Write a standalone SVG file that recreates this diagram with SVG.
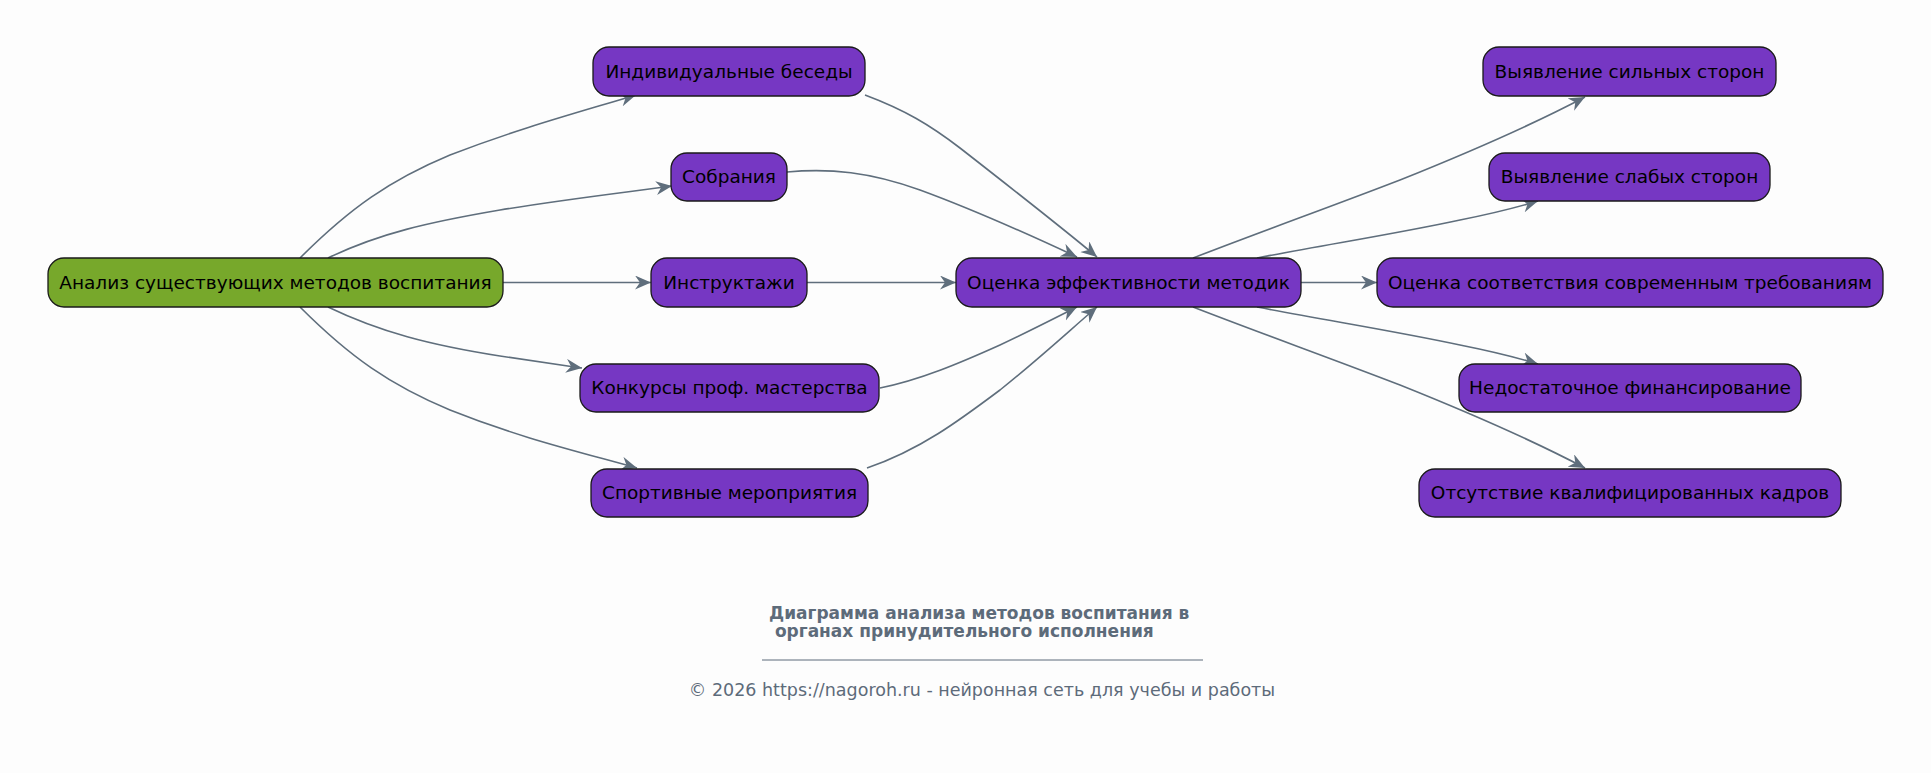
<svg xmlns="http://www.w3.org/2000/svg" width="1931" height="773" viewBox="0 0 1931 773">
<style>
.n rect{fill:#7637c3;stroke:#1a1a1a;stroke-width:1.3}
.root rect{fill:#77a82b}
.n text{font-family:"DejaVu Sans",sans-serif;font-size:18.5px;fill:#000;text-anchor:middle}
.e path{fill:none;stroke:#5f6e7c;stroke-width:1.6;marker-end:url(#ah)}
.t{font-family:"DejaVu Sans",sans-serif;fill:#5d6b7a}
</style>
<defs>
<marker id="ah" markerUnits="userSpaceOnUse" markerWidth="20" markerHeight="16" refX="16" refY="7" orient="auto">
<path d="M0,0 L16,7 L0,14 L5,7 z" fill="#5f6e7c"/>
</marker>
</defs>
<rect width="1931" height="773" fill="#fdfdfd"/>
<g id="connectors" class="e">
<path d="M300,258 C350,208 390,180 450,155 C520,128 580,112 636,95"/>
<path d="M328,258 C380,233 430,222 500,210 C560,200 620,193 672,186"/>
<path d="M503,282.5 L651,282.5"/>
<path d="M328,307 C380,332 430,345 500,356 C540,362 560,365 582,368"/>
<path d="M300,307 C350,357 390,385 450,410 C520,438 580,452 637,468"/>
<path d="M865,95 C905,110 930,125 960,148 C1010,187 1060,226 1097,257"/>
<path d="M787,172 C830,168 870,172 920,190 C980,212 1030,235 1077,257"/>
<path d="M807,282.5 L956,282.5"/>
<path d="M880,388 C920,380 960,363 1000,345 C1030,331 1055,318 1077,307"/>
<path d="M867,468 C920,450 960,420 1000,390 C1040,358 1070,330 1097,307"/>
<path d="M1193,258 C1260,232 1330,207 1400,180 C1470,152 1530,126 1585,97"/>
<path d="M1257,258 C1330,244 1400,233 1460,220 C1490,214 1515,208 1538,201"/>
<path d="M1301,282.5 L1377,282.5"/>
<path d="M1257,307 C1330,321 1400,332 1460,345 C1490,351 1515,357 1538,364"/>
<path d="M1193,307 C1260,333 1330,358 1400,385 C1470,413 1530,439 1585,468"/>
</g>
<g id="n-analiz" class="n root"><rect x="48" y="258" width="455" height="49" rx="16"/><text x="275.5" y="289">Анализ существующих методов воспитания</text></g>
<g id="n-besedy" class="n"><rect x="593" y="47" width="272" height="49" rx="16"/><text x="729" y="78">Индивидуальные беседы</text></g>
<g id="n-sobrania" class="n"><rect x="671" y="153" width="116" height="48" rx="16"/><text x="729" y="183">Собрания</text></g>
<g id="n-instr" class="n"><rect x="651" y="258" width="156" height="49" rx="16"/><text x="729" y="289">Инструктажи</text></g>
<g id="n-konkurs" class="n"><rect x="580" y="364" width="299" height="48" rx="16"/><text x="729.5" y="394">Конкурсы проф. мастерства</text></g>
<g id="n-sport" class="n"><rect x="591" y="469" width="277" height="48" rx="16"/><text x="729.5" y="499">Спортивные мероприятия</text></g>
<g id="n-ocenka" class="n"><rect x="956" y="258" width="345" height="49" rx="16"/><text x="1128.5" y="289">Оценка эффективности методик</text></g>
<g id="n-silnye" class="n"><rect x="1483" y="47" width="293" height="49" rx="16"/><text x="1629.5" y="78">Выявление сильных сторон</text></g>
<g id="n-slabye" class="n"><rect x="1489" y="153" width="281" height="48" rx="16"/><text x="1629.5" y="183">Выявление слабых сторон</text></g>
<g id="n-sootv" class="n"><rect x="1377" y="258" width="506" height="49" rx="16"/><text x="1630" y="289">Оценка соответствия современным требованиям</text></g>
<g id="n-finans" class="n"><rect x="1459" y="364" width="342" height="48" rx="16"/><text x="1630" y="394">Недостаточное финансирование</text></g>
<g id="n-kadry" class="n"><rect x="1419" y="469" width="422" height="48" rx="16"/><text x="1630" y="499">Отсутствие квалифицированных кадров</text></g>
<g id="title">
<text class="t" x="769" y="619" font-size="17" font-weight="bold" xml:space="preserve">Диаграмма анализа методов воспитания в</text>
<text class="t" x="769" y="637" font-size="17" font-weight="bold" xml:space="preserve"> органах принудительного исполнения</text>
<line x1="762" y1="660" x2="1203" y2="660" stroke="#5d6b7a" stroke-width="1"/>
<text class="t" x="982" y="696" font-size="17.5" text-anchor="middle">© 2026 https://nagoroh.ru - нейронная сеть для учебы и работы</text>
</g>
</svg>
